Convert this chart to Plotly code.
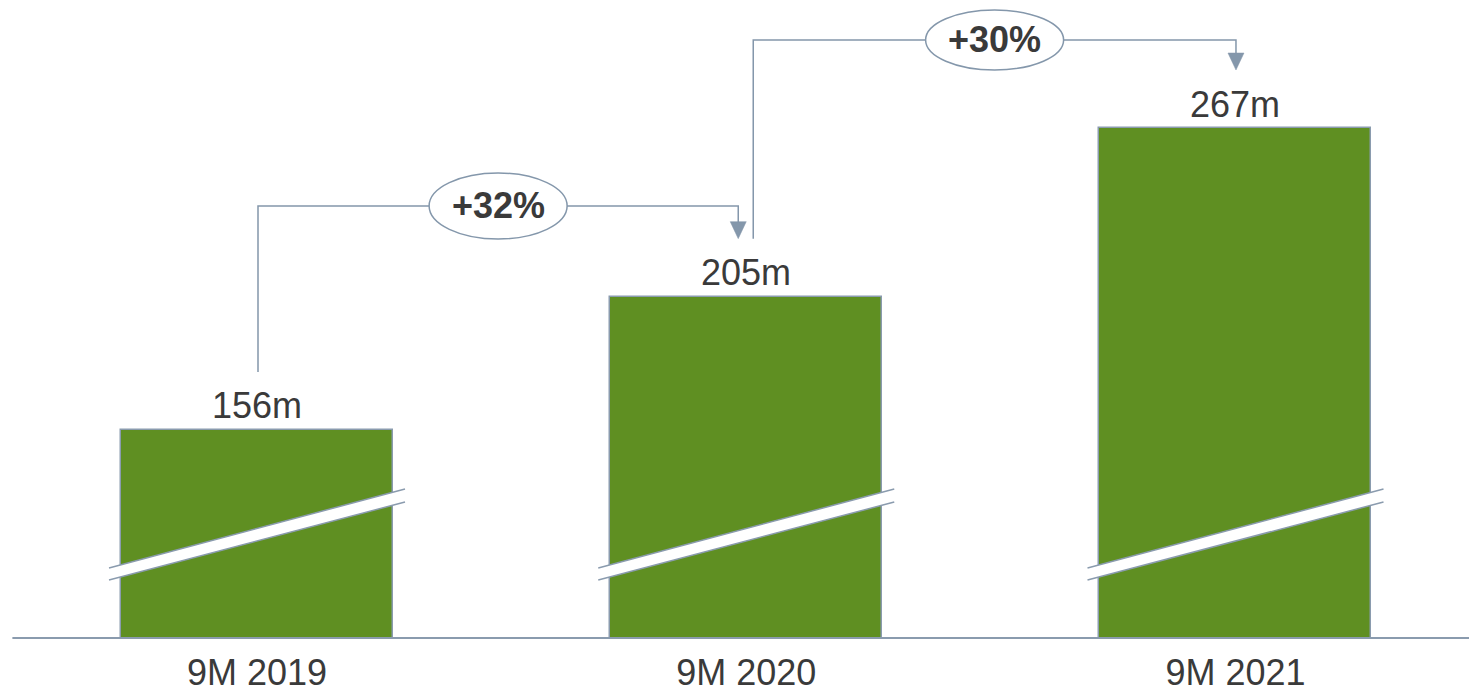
import plotly.graph_objects as go

# ---- data ----
categories = ["9M 2019", "9M 2020", "9M 2021"]
values = [156, 205, 267]
value_labels = ["156m", "205m", "267m"]
growth_labels = ["+32%", "+30%"]

# ---- style constants ----
BAR_FILL = "#5F8F22"
EDGE = "#8A9BAE"
LINE = "#8497AB"
TXT = "#3A3A3A"
FONT = "Liberation Sans, Arial, sans-serif"
FS = 36

W, H = 1469, 694
MB = 56
PLOT_H = H - MB
X0, X1 = -0.5253, 2.4773          # x-axis range (categories at 0,1,2)
Y0 = 79.5                          # broken value axis starts here
PXY = 2.72                         # px per value unit
Y1 = Y0 + PLOT_H / PXY
PXX = W / (X1 - X0)                # px per category unit
dx = lambda px: px / PXX
dy = lambda px: px / PXY
py = lambda p: Y0 + (PLOT_H - p) / PXY   # pixel row -> value

xs = list(range(len(categories)))
BAR_W = dx(272)

fig = go.Figure()
fig.add_trace(go.Bar(
    x=xs, y=values, width=BAR_W,
    marker=dict(color=BAR_FILL, line=dict(color=EDGE, width=1.5)),
    hoverinfo="skip", showlegend=False,
))

shapes = []
annotations = []

# value labels
for x, v, t in zip(xs, values, value_labels):
    annotations.append(dict(x=x, y=v, xref="x", yref="y", text=t, showarrow=False,
                            yanchor="middle", yshift=24,
                            font=dict(family=FONT, size=FS, color=TXT)))

# break marks (white band with grey edges) across each bar
for x in xs:
    xl, xr = x - dx(148), x + dx(148)
    ul, ur, ll, lr = py(568), py(489), py(580), py(502)
    shapes.append(dict(type="path", xref="x", yref="y",
                       path=f"M{xl},{ul} L{xr},{ur} L{xr},{lr} L{xl},{ll} Z",
                       fillcolor="white", line=dict(width=0), layer="above"))
    for a, b in ((ul, ur), (ll, lr)):
        shapes.append(dict(type="line", xref="x", yref="y", x0=xl, y0=a, x1=xr, y1=b,
                           line=dict(color=EDGE, width=1.5), layer="above"))

# baseline axis line
shapes.append(dict(type="line", xref="x", yref="paper", x0=-0.5, x1=X1, y0=0, y1=0,
                   line=dict(color=EDGE, width=2), layer="above"))

# growth connectors
def connector(xa, ya_start, xb, level, tip, label, half_h):
    shapes.append(dict(type="path", xref="x", yref="y",
                       path=f"M{xa},{ya_start} L{xa},{level} L{xb},{level} L{xb},{tip + dy(16)}",
                       line=dict(color=LINE, width=1.5)))
    shapes.append(dict(type="path", xref="x", yref="y",
                       path=f"M{xb - dx(8)},{tip + dy(17)} L{xb + dx(8)},{tip + dy(17)} L{xb},{tip} Z",
                       fillcolor=LINE, line=dict(color=LINE, width=0.5)))
    cx = (xa + xb) / 2
    shapes.append(dict(type="circle", xref="x", yref="y",
                       x0=cx - dx(69), x1=cx + dx(69),
                       y0=level - dy(half_h), y1=level + dy(half_h),
                       fillcolor="white", line=dict(color=LINE, width=1.5)))
    annotations.append(dict(x=cx, y=level, xref="x", yref="y", text=f"<b>{label}</b>",
                            showarrow=False, yanchor="middle", yshift=1,
                            font=dict(family=FONT, size=FS, color=TXT)))

off = dy(58)  # gap between bar value and connector end points
connector(xs[0] + dx(1), values[0] + off, xs[1] - dx(8), py(206), values[1] + off, growth_labels[0], 33)
connector(xs[1] + dx(7), values[1] + off, xs[2] + dx(0.5), py(40), values[2] + off, growth_labels[1], 30)

fig.update_layout(
    width=W, height=H,
    margin=dict(l=0, r=0, t=0, b=MB),
    paper_bgcolor="white", plot_bgcolor="white",
    xaxis=dict(range=[X0, X1], tickvals=xs, ticktext=categories, showgrid=False,
               zeroline=False, showline=False, ticks="", ticklabelstandoff=10,
               automargin=False,
               tickfont=dict(family=FONT, size=FS, color=TXT), fixedrange=True),
    yaxis=dict(range=[Y0, Y1], visible=False, fixedrange=True, automargin=False),
    shapes=shapes, annotations=annotations,
    bargap=0,
)

fig.write_html("out.html", config={"displayModeBar": False})
